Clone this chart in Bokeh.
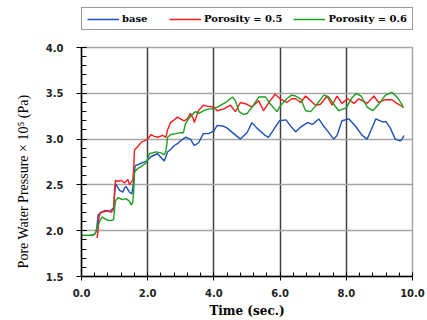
from bokeh.plotting import figure
from bokeh.layouts import column, row
from bokeh.models import (SingleIntervalTicker, FixedTicker, NumeralTickFormatter,
                          Legend, LegendItem, Label, Range1d)
from bokeh.embed import file_html
from bokeh.resources import INLINE
import math

# ---- data ----
base_x = [0.3, 0.38, 0.45, 0.47, 0.5, 0.6, 0.7, 0.85, 0.97, 1.0,
          1.03, 1.1, 1.15, 1.25, 1.3, 1.35, 1.45, 1.52, 1.58, 1.62,
          1.7, 1.82, 1.97, 2.1, 2.3, 2.4, 2.5, 2.6, 2.7, 2.8,
          2.9, 2.99, 3.14, 3.29, 3.41, 3.54, 3.68, 3.84, 4.0, 4.1,
          4.3, 4.4, 4.6, 4.8, 5.0, 5.15, 5.3, 5.55, 5.65, 5.8,
          5.98, 6.18, 6.3, 6.47, 6.62, 6.83, 6.98, 7.17, 7.32, 7.47,
          7.62, 7.72, 7.87, 8.08, 8.28, 8.48, 8.63, 8.75, 8.89, 9.08,
          9.2, 9.33, 9.48, 9.63, 9.69, 9.74]
base_y = [1.95, 1.96, 1.99, 2.05, 2.17, 2.20, 2.22, 2.21, 2.25, 2.40,
          2.51, 2.47, 2.44, 2.42, 2.47, 2.48, 2.42, 2.40, 2.55, 2.71,
          2.72, 2.74, 2.76, 2.81, 2.84, 2.80, 2.76, 2.86, 2.89, 2.93,
          2.95, 2.98, 3.02, 3.00, 2.93, 2.96, 3.06, 3.06, 3.09, 3.15,
          3.14, 3.12, 3.06, 3.00, 3.07, 3.18, 3.12, 3.04, 3.02, 3.10,
          3.20, 3.21, 3.15, 3.08, 3.13, 3.18, 3.16, 3.22, 3.14, 3.07,
          3.00, 3.04, 3.20, 3.22, 3.14, 3.04, 3.00, 3.10, 3.22, 3.19,
          3.19, 3.12, 3.00, 2.98, 3.00, 3.04]

p05_x = [0.47, 0.5, 0.53, 0.57, 0.7, 0.8, 0.9, 0.97, 1.0, 1.03,
         1.1, 1.2, 1.3, 1.4, 1.45, 1.5, 1.55, 1.58, 1.6, 1.7,
         1.82, 1.9, 2.0, 2.1, 2.2, 2.3, 2.45, 2.55, 2.6, 2.69,
         2.8, 2.9, 2.99, 3.1, 3.2, 3.29, 3.38, 3.41, 3.53, 3.68,
         3.8, 4.0, 4.1, 4.3, 4.5, 4.65, 4.8, 5.0, 5.15, 5.35,
         5.5, 5.7, 5.85, 6.0, 6.2, 6.35, 6.47, 6.62, 6.77, 6.92,
         7.07, 7.22, 7.42, 7.57, 7.72, 7.87, 8.04, 8.23, 8.38, 8.63,
         8.83, 8.98, 9.18, 9.38, 9.53, 9.73]
p05_y = [1.92, 2.0, 2.15, 2.20, 2.21, 2.22, 2.20, 2.23, 2.45, 2.55,
         2.54, 2.55, 2.52, 2.56, 2.50, 2.53, 2.55, 2.70, 2.88, 2.92,
         2.97, 2.98, 3.00, 3.05, 3.03, 3.02, 3.04, 3.02, 3.10, 3.18,
         3.21, 3.24, 3.22, 3.20, 3.22, 3.28, 3.22, 3.18, 3.31, 3.37,
         3.36, 3.35, 3.31, 3.33, 3.37, 3.30, 3.40, 3.38, 3.35, 3.42,
         3.31, 3.42, 3.49, 3.44, 3.40, 3.44, 3.44, 3.40, 3.47, 3.42,
         3.37, 3.38, 3.47, 3.37, 3.47, 3.39, 3.44, 3.39, 3.44, 3.39,
         3.47, 3.40, 3.43, 3.43, 3.39, 3.35]

p06_x = [0.0, 0.35, 0.42, 0.47, 0.55, 0.62, 0.75, 0.85, 0.97, 1.0,
         1.03, 1.1, 1.25, 1.35, 1.45, 1.5, 1.55, 1.58, 1.6, 1.7,
         1.8, 1.87, 1.95, 2.05, 2.15, 2.25, 2.4, 2.5, 2.55, 2.58,
         2.6, 2.7, 2.85, 2.99, 3.08, 3.14, 3.29, 3.45, 3.55, 3.69,
         3.84, 3.95, 4.1, 4.36, 4.56, 4.65, 4.76, 4.9, 5.01, 5.15,
         5.36, 5.56, 5.71, 5.91, 6.0, 6.2, 6.35, 6.47, 6.62, 6.77,
         6.92, 7.07, 7.32, 7.47, 7.62, 7.77, 8.0, 8.15, 8.3, 8.45,
         8.63, 8.8, 8.98, 9.18, 9.38, 9.53, 9.68, 9.72]
p06_y = [1.95, 1.95, 1.97, 2.04, 2.10, 2.15, 2.12, 2.11, 2.12, 2.25,
         2.33, 2.36, 2.34, 2.35, 2.32, 2.28, 2.31, 2.45, 2.64, 2.68,
         2.70, 2.72, 2.74, 2.84, 2.85, 2.86, 2.85, 2.83, 2.87, 2.95,
         3.02, 3.05, 3.06, 3.07, 3.07, 3.17, 3.25, 3.30, 3.28, 3.31,
         3.33, 3.33, 3.35, 3.40, 3.46, 3.42, 3.30, 3.27, 3.28, 3.35,
         3.46, 3.46, 3.38, 3.30, 3.36, 3.44, 3.48, 3.47, 3.44, 3.31,
         3.30, 3.36, 3.48, 3.46, 3.38, 3.31, 3.34, 3.44, 3.50, 3.47,
         3.35, 3.31, 3.38, 3.48, 3.51, 3.46, 3.38, 3.34]

series_labels = ["base", "Porosity = 0.5", "Porosity = 0.6"]
series_colors = ["#1f4fb8", "#ff1a1a", "#1e9e1e"]
x_label = "Time (sec.)"
y_label = "Pore Water Pressure \u00d7 10\u2075 (Pa)"

# ---------- main chart ----------
p = figure(width=391, height=283, output_backend="svg", toolbar_location=None,
           x_range=Range1d(0, 10), y_range=Range1d(1.5, 4.0),
           min_border_left=45, min_border_right=15, min_border_top=10, min_border_bottom=44)
p.background_fill_color = "white"
p.border_fill_color = "white"
p.outline_line_color = "#a6a6a6"
p.outline_line_width = 1.5

r_base = p.line(base_x, base_y, line_color=series_colors[0], line_width=1.4)
r_05 = p.line(p05_x, p05_y, line_color=series_colors[1], line_width=1.4)
r_06 = p.line(p06_x, p06_y, line_color=series_colors[2], line_width=1.4)

p.xaxis.ticker = SingleIntervalTicker(interval=2, num_minor_ticks=5)
p.yaxis.ticker = SingleIntervalTicker(interval=0.5, num_minor_ticks=5)
p.xaxis.formatter = NumeralTickFormatter(format="0.0")
p.yaxis.formatter = NumeralTickFormatter(format="0.0")
for ax in (p.xaxis[0], p.yaxis[0]):
    ax.axis_line_color = "black"
    ax.axis_line_width = 1.5
    ax.major_tick_line_color = "black"
    ax.minor_tick_line_color = "black"
    ax.major_tick_line_width = 1
    ax.minor_tick_line_width = 1
    ax.major_label_text_font = "DejaVu Sans"
    ax.major_label_text_font_style = "bold"
    ax.major_label_text_font_size = "10px"
    ax.major_label_text_color = "#222222"
p.xaxis.major_tick_out = 4
p.xaxis.major_tick_in = 0
p.xaxis.minor_tick_in = 4
p.xaxis.minor_tick_out = 0
p.xaxis.major_label_standoff = 8
p.yaxis.major_tick_out = 5
p.yaxis.major_tick_in = 5
p.yaxis.minor_tick_in = 5
p.yaxis.minor_tick_out = 0
p.yaxis.major_label_standoff = 13

p.xaxis.axis_label = x_label
p.xaxis.axis_label_text_font = "DejaVu Serif"
p.xaxis.axis_label_text_font_style = "bold"
p.xaxis.axis_label_text_font_size = "12px"
p.xaxis.axis_label_text_color = "black"
p.xaxis.axis_label_standoff = 4

p.xgrid.ticker = FixedTicker(ticks=[2, 4, 6, 8])
p.ygrid.ticker = FixedTicker(ticks=[2.0, 2.5, 3.0, 3.5])
p.xgrid.grid_line_color = "#404040"
p.xgrid.grid_line_width = 1.5
p.ygrid.grid_line_color = "#a6a6a6"
p.ygrid.grid_line_width = 1.5

# ---------- y-axis title strip ----------
py_lab = figure(width=36, height=283, output_backend="svg", toolbar_location=None,
                x_range=Range1d(0, 1), y_range=Range1d(0, 1),
                x_axis_type=None, y_axis_type=None,
                min_border=0, min_border_left=0, min_border_right=0,
                min_border_top=0, min_border_bottom=0)
py_lab.outline_line_color = None
py_lab.grid.visible = False
py_lab.add_layout(Label(x=23, y=95, x_units="screen", y_units="screen", text=y_label,
                        angle=math.pi / 2, text_align="center", text_baseline="middle",
                        text_font="Liberation Serif", text_font_size="14px",
                        text_color="black"))

# ---------- legend strip (its lines sit outside the strip's visible range) ----------
pl = figure(width=427, height=37, output_backend="svg", toolbar_location=None,
            x_range=Range1d(0, 1), y_range=Range1d(100, 101),
            x_axis_type=None, y_axis_type=None,
            min_border=0, min_border_left=0, min_border_right=0,
            min_border_top=0, min_border_bottom=0)
pl.outline_line_color = None
pl.grid.visible = False
lr = [pl.line(xs[:2], ys[:2], line_color=c, line_width=1.4)
      for xs, ys, c in zip([base_x, p05_x, p06_x], [base_y, p05_y, p06_y], series_colors)]
legend = Legend(items=[LegendItem(label=lab, renderers=[r]) for lab, r in zip(series_labels, lr)],
                orientation="horizontal", location=(81, 7))
legend.label_text_font = "DejaVu Serif"
legend.label_text_font_style = "bold"
legend.label_text_font_size = "10px"
legend.label_text_color = "black"
legend.glyph_width = 32
legend.glyph_height = 10
legend.label_height = 10
legend.label_width = 36
legend.label_standoff = 3
legend.spacing = 11
legend.padding = 5
legend.margin = 0
legend.border_line_color = "#333333"
legend.border_line_width = 1.2
legend.background_fill_alpha = 1
pl.add_layout(legend, "center")

layout = column(pl, row(py_lab, p, spacing=0), spacing=0)
open("out.html", "w").write(file_html(layout, INLINE))
